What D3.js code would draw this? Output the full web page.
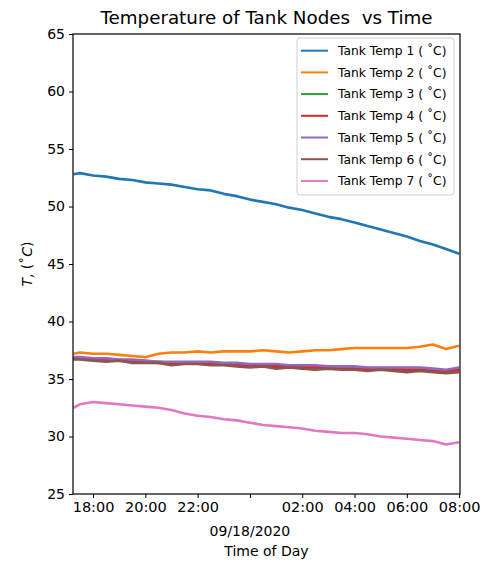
<!DOCTYPE html>
<html>
<head>
  <script src="https://d3js.org/d3.v7.min.js"></script>
  <title>Temperature of Tank Nodes vs Time</title>
  <style>
    body { margin: 0; background: #fff; }
    text { font-family: "DejaVu Sans", sans-serif; fill: #000; }
  </style>
</head>
<body>
  <div id='chart'></div>
  <script>
    // sample times (every 30 min, first one at 17:15)
    var times = ['09/17/2020 17:15', '09/17/2020 17:30', '09/17/2020 18:00', '09/17/2020 18:30',
      '09/17/2020 19:00', '09/17/2020 19:30', '09/17/2020 20:00', '09/17/2020 20:30',
      '09/17/2020 21:00', '09/17/2020 21:30', '09/17/2020 22:00', '09/17/2020 22:30',
      '09/17/2020 23:00', '09/17/2020 23:30', '09/18/2020 00:00', '09/18/2020 00:30',
      '09/18/2020 01:00', '09/18/2020 01:30', '09/18/2020 02:00', '09/18/2020 02:30',
      '09/18/2020 03:00', '09/18/2020 03:30', '09/18/2020 04:00', '09/18/2020 04:30',
      '09/18/2020 05:00', '09/18/2020 05:30', '09/18/2020 06:00', '09/18/2020 06:30',
      '09/18/2020 07:00', '09/18/2020 07:30', '09/18/2020 08:00'];

    var temp1 = [52.8, 52.9, 52.7, 52.6, 52.4, 52.3, 52.1, 52.0, 51.9, 51.7, 51.5, 51.4, 51.1, 50.9, 50.6, 50.4,
      50.2, 49.9, 49.7, 49.4, 49.1, 48.9, 48.6, 48.3, 48.0, 47.7, 47.4, 47.0, 46.7, 46.3, 45.9];
    var temp2 = [37.2, 37.3, 37.2, 37.2, 37.1, 37.0, 36.9, 37.2, 37.3, 37.3, 37.4, 37.3, 37.4, 37.4, 37.4, 37.5,
      37.4, 37.3, 37.4, 37.5, 37.5, 37.6, 37.7, 37.7, 37.7, 37.7, 37.7, 37.8, 38.0, 37.6, 37.9];
    var temp3 = [36.8, 36.8, 36.7, 36.7, 36.6, 36.6, 36.5, 36.5, 36.4, 36.4, 36.4, 36.3, 36.3, 36.3, 36.2, 36.2,
      36.1, 36.1, 36.1, 36.0, 36.0, 36.0, 35.9, 35.9, 35.9, 35.9, 35.8, 35.8, 35.8, 35.7, 35.8];
    var temp4 = [36.8, 36.8, 36.7, 36.7, 36.6, 36.5, 36.5, 36.4, 36.4, 36.4, 36.4, 36.3, 36.3, 36.2, 36.2, 36.2,
      36.1, 36.1, 36.0, 36.0, 36.0, 35.9, 35.9, 35.9, 35.8, 35.8, 35.8, 35.8, 35.7, 35.6, 35.8];
    var temp5 = [36.9, 36.9, 36.8, 36.8, 36.7, 36.7, 36.6, 36.5, 36.5, 36.5, 36.5, 36.5, 36.4, 36.4, 36.3, 36.3,
      36.3, 36.2, 36.2, 36.2, 36.1, 36.1, 36.1, 36.0, 36.0, 36.0, 36.0, 36.0, 35.9, 35.8, 36.0];
    var temp6 = [36.7, 36.7, 36.6, 36.5, 36.6, 36.4, 36.4, 36.4, 36.2, 36.3, 36.3, 36.2, 36.2, 36.1, 36.0, 36.1,
      35.9, 36.0, 35.9, 35.8, 35.9, 35.8, 35.8, 35.7, 35.8, 35.7, 35.6, 35.7, 35.6, 35.5, 35.6];
    var temp7 = [32.5, 32.8, 33.0, 32.9, 32.8, 32.7, 32.6, 32.5, 32.3, 32.0, 31.8, 31.7, 31.5, 31.4, 31.2, 31.0,
      30.9, 30.8, 30.7, 30.5, 30.4, 30.3, 30.3, 30.2, 30.0, 29.9, 29.8, 29.7, 29.6, 29.3, 29.5];

    var seriesNames = ['Tank Temp 1 ( \u02daC)', 'Tank Temp 2 ( \u02daC)', 'Tank Temp 3 ( \u02daC)', 'Tank Temp 4 ( \u02daC)',
      'Tank Temp 5 ( \u02daC)', 'Tank Temp 6 ( \u02daC)', 'Tank Temp 7 ( \u02daC)'];
    var seriesValues = [temp1, temp2, temp3, temp4, temp5, temp6, temp7];
    var yTicks = [25, 30, 35, 40, 45, 50, 55, 60, 65];
    var xTicks = ['09/17/2020 18:00', '09/17/2020 20:00', '09/17/2020 22:00', '09/18/2020 00:00',
      '09/18/2020 02:00', '09/18/2020 04:00', '09/18/2020 06:00', '09/18/2020 08:00'];
    var colors = ['#1f77b4', '#ff7f0e', '#2ca02c', '#d62728', '#9467bd', '#8c564b', '#e377c2'];

    var width = 490, height = 563;
    var margin = {top: 34, right: 30, bottom: 69, left: 73};
    var parse = d3.timeParse('%m/%d/%Y %H:%M');
    var dates = times.map(parse);

    var svg = d3.select('#chart').append('svg').attr('width', width).attr('height', height);

    var x = d3.scaleTime()
        .domain([parse('09/17/2020 17:14'), parse('09/18/2020 08:02')])
        .range([margin.left, width - margin.right]);
    var y = d3.scaleLinear()
        .domain([25, 65])
        .range([height - margin.bottom, margin.top]);

    // lines
    var line = d3.line()
        .x(function(d, i) { return x(dates[i]); })
        .y(function(d) { return y(d); });

    svg.append('g').selectAll('path')
       .data(seriesValues)
       .enter()
       .append('path')
       .attr('d', line)
       .attr('fill', 'none')
       .attr('stroke', function(d, i) { return colors[i]; })
       .attr('stroke-width', 2.6)
       .attr('stroke-linejoin', 'round');

    // axes
    var xAxis = d3.axisBottom(x)
        .tickValues(xTicks.map(parse))
        .tickSize(4)
        .tickPadding(4)
        .tickFormat(function(d) { return d.getHours() === 0 ? '' : d3.timeFormat('%H:%M')(d); });
    var gx = svg.append('g')
        .attr('transform', 'translate(0,' + (height - margin.bottom) + ')')
        .call(xAxis);
    gx.selectAll('text').attr('font-size', '14.5px').attr('font-family', 'DejaVu Sans');

    var yAxis = d3.axisLeft(y).tickValues(yTicks).tickSize(4).tickPadding(4);
    var gy = svg.append('g')
        .attr('transform', 'translate(' + margin.left + ',0)')
        .call(yAxis);
    gy.selectAll('text').attr('font-size', '14px').attr('font-family', 'DejaVu Sans');
    gx.select('.domain').remove();
    gy.select('.domain').remove();

    // frame
    svg.append('rect')
       .attr('x', margin.left)
       .attr('y', margin.top)
       .attr('width', width - margin.left - margin.right)
       .attr('height', height - margin.top - margin.bottom)
       .attr('fill', 'none')
       .attr('stroke', '#000')
       .attr('stroke-width', 1.2);

    // date under midnight tick
    svg.append('text')
       .attr('x', x(parse('09/18/2020 00:00')))
       .attr('y', 536)
       .attr('text-anchor', 'middle')
       .attr('font-size', '14px')
       .text('09/18/2020');

    svg.append('text')
       .attr('x', (margin.left + width - margin.right) / 2)
       .attr('y', 556)
       .attr('text-anchor', 'middle')
       .attr('font-size', '14px')
       .text('Time of Day');

    var ylab = svg.append('text')
       .attr('transform', 'translate(32,' + ((margin.top + height - margin.bottom) / 2) + ') rotate(-90)')
       .attr('text-anchor', 'middle')
       .attr('font-size', '14px');
    ylab.append('tspan').attr('font-style', 'italic').text('T');
    ylab.append('tspan').text(', (\u02da');
    ylab.append('tspan').attr('font-style', 'italic').text('C');
    ylab.append('tspan').text(')');

    svg.append('text')
       .attr('x', (margin.left + width - margin.right) / 2)
       .attr('y', 24)
       .attr('text-anchor', 'middle')
       .attr('font-size', '18.3px')
       .text('Temperature of Tank Nodes  vs Time')
       .style('white-space', 'pre');

    // legend
    var legend = svg.append('g').attr('transform', 'translate(297,38)');
    legend.append('rect')
       .attr('width', 157)
       .attr('height', 157)
       .attr('rx', 3)
       .attr('fill', '#fff')
       .attr('fill-opacity', 0.8)
       .attr('stroke', '#d0d0d0');
    var items = legend.selectAll('g.item')
       .data(seriesNames)
       .enter()
       .append('g')
       .attr('class', 'item')
       .attr('transform', function(d, i) { return 'translate(0,' + (12.7 + i * 21.7) + ')'; });
    items.append('line')
       .attr('x1', 4).attr('x2', 31)
       .attr('stroke', function(d, i) { return colors[i]; })
       .attr('stroke-width', 2);
    items.append('text')
       .attr('x', 41)
       .attr('dy', '0.35em')
       .attr('font-size', '12.3px')
       .style('white-space', 'pre')
       .text(function(d) { return d; });
  </script>
</body>
</html>
